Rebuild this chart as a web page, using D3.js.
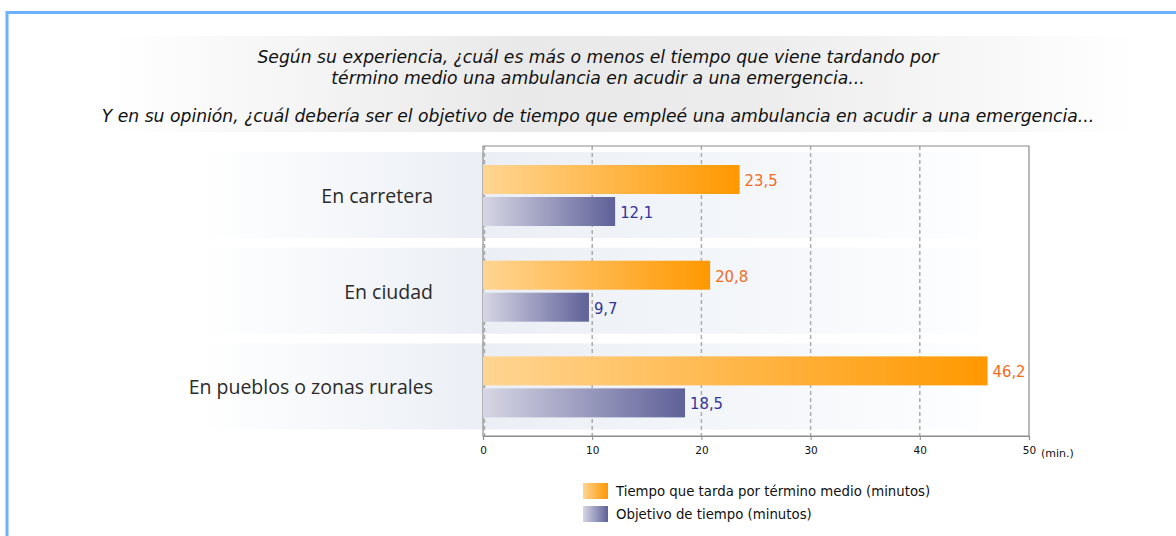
<!DOCTYPE html>
<html>
<head>
<meta charset="utf-8">
<script src="https://cdn.jsdelivr.net/npm/d3@7"></script>
<style>
  body { margin: 0; background: #fff; }
  svg { display: block; }
</style>
</head>
<body>
<svg id="chart" width="1176" height="536"></svg>
<script>
const titleLines = [
  'Según su experiencia, ¿cuál es más o menos el tiempo que viene tardando por',
  'término medio una ambulancia en acudir a una emergencia...',
  'Y en su opinión, ¿cuál debería ser el objetivo de tiempo que empleé una ambulancia en acudir a una emergencia...'
];
const categories = ['En carretera', 'En ciudad', 'En pueblos o zonas rurales'];
const seriesNames = ['Tiempo que tarda por término medio (minutos)', 'Objetivo de tiempo (minutos)'];
const tiempoMedio = [23.5, 20.8, 46.2];
const objetivo = [12.1, 9.7, 18.5];
const xTicks = [0, 10, 20, 30, 40, 50];
const unitLabel = '(min.)';

const seriesValues = [tiempoMedio, objetivo];
const seriesColors = [
  {from: '#ffd593', to: '#ff9800', text: '#f26b1d'},
  {from: '#d6d6e4', to: '#5f6198', text: '#34349a'}
];

const svg = d3.select('#chart');
const defs = svg.append('defs');

function hGrad(id, stops) {
  const g = defs.append('linearGradient').attr('id', id)
    .attr('x1', '0%').attr('x2', '100%').attr('y1', '0%').attr('y2', '0%');
  stops.forEach(function(s) {
    g.append('stop').attr('offset', s[0]).attr('stop-color', s[1]);
  });
}
hGrad('titleBg', [['0%', '#ffffff'], ['40%', '#e9e9e9'], ['62%', '#ececec'], ['100%', '#ffffff']]);
hGrad('bandBg', [['0%', '#ffffff'], ['36%', '#ebeff5'], ['60%', '#f1f4f8'], ['100%', '#fdfeff']]);
seriesColors.forEach(function(c, i) {
  hGrad('bar' + i, [['0%', c.from], ['100%', c.to]]);
});

// outer blue frame (top and left only)
svg.append('path')
  .attr('d', 'M7,536 V12.5 H1176')
  .attr('fill', 'none').attr('stroke', '#6cb1ff').attr('stroke-width', 3);

// title
svg.append('rect')
  .attr('x', 110).attr('y', 36).attr('width', 1027).attr('height', 96)
  .attr('fill', 'url(#titleBg)');
const titleY = [63, 84, 122];
svg.selectAll('.title').data(titleLines).enter().append('text')
  .attr('class', 'title')
  .attr('x', 598)
  .attr('y', function(d, i) { return titleY[i]; })
  .attr('text-anchor', 'middle')
  .style('font-family', 'DejaVu Sans, sans-serif')
  .style('font-style', 'italic')
  .style('font-size', '17.2px')
  .style('fill', '#111')
  .text(function(d) { return d; });

// scales
const x = d3.scaleLinear().domain([0, 50]).range([483, 1029]);
const y = d3.scaleBand().domain(categories).range([152, 429.5]).paddingInner(0.1);
const ySub = d3.scaleBand().domain([0, 1]).range([13, 74]).paddingInner(0.094);
const plotTop = 146, plotBottom = 436;

// category background bands
svg.selectAll('.band').data(categories).enter().append('rect')
  .attr('class', 'band')
  .attr('x', 200).attr('width', 780)
  .attr('y', function(d) { return y(d); })
  .attr('height', y.bandwidth())
  .attr('fill', 'url(#bandBg)');

// grid lines
svg.selectAll('.grid').data(xTicks.slice(0, -1)).enter().append('line')
  .attr('class', 'grid')
  .attr('x1', function(d) { return x(d) + (d === 0 ? 1.5 : 0); })
  .attr('x2', function(d) { return x(d) + (d === 0 ? 1.5 : 0); })
  .attr('y1', plotTop).attr('y2', plotBottom)
  .attr('stroke', '#acacac').attr('stroke-width', 1.5)
  .attr('stroke-dasharray', '4,3');

// plot frame
svg.append('path')
  .attr('d', 'M' + x(0) + ',' + plotBottom + ' V' + plotTop + ' H' + x(50) + ' V' + plotBottom + ' Z')
  .attr('fill', 'none').attr('stroke', '#8c8c8c').attr('stroke-width', 1.2);

// bars
const groups = svg.selectAll('.cat').data(categories).enter().append('g')
  .attr('class', 'cat')
  .attr('transform', function(d) { return 'translate(0,' + y(d) + ')'; });

groups.each(function(cat, ci) {
  const g = d3.select(this);
  const rows = seriesValues.map(function(vals, si) { return {si: si, v: vals[ci]}; });
  g.selectAll('rect').data(rows).enter().append('rect')
    .attr('x', x(0))
    .attr('y', function(d) { return ySub(d.si); })
    .attr('width', function(d) { return x(d.v) - x(0); })
    .attr('height', ySub.bandwidth())
    .attr('fill', function(d) { return 'url(#bar' + d.si + ')'; });
  g.selectAll('text.val').data(rows).enter().append('text')
    .attr('class', 'val')
    .attr('x', function(d) { return x(d.v) + 5; })
    .attr('y', function(d) { return ySub(d.si) + ySub.bandwidth() / 2 + 6.5; })
    .style('font-family', 'DejaVu Sans Condensed, DejaVu Sans, sans-serif')
    .style('font-stretch', 'condensed')
    .style('font-size', '16.5px')
    .style('fill', function(d) { return seriesColors[d.si].text; })
    .text(function(d) { return String(d.v.toFixed(1)).replace('.', ','); });
  g.append('text')
    .attr('x', 433)
    .attr('y', y.bandwidth() / 2 + 8)
    .attr('text-anchor', 'end')
    .style('font-family', 'Open Sans, sans-serif')
    .style('font-size', '19.5px')
    .style('fill', '#2a2a2a')
    .text(cat);
});

// x axis
const xAxis = svg.append('g')
  .attr('transform', 'translate(0,' + plotBottom + ')')
  .call(d3.axisBottom(x).tickValues(xTicks).tickSize(4).tickPadding(7));
xAxis.select('.domain').attr('stroke', '#8c8c8c').attr('stroke-width', 1.2);
xAxis.selectAll('.tick line').attr('stroke', '#8c8c8c');
xAxis.selectAll('.tick text')
  .style('font-family', 'DejaVu Sans, sans-serif')
  .style('font-size', '10.5px')
  .style('fill', '#111');
svg.append('text')
  .attr('x', x(50) + 12).attr('y', 457)
  .style('font-family', 'DejaVu Sans, sans-serif')
  .style('font-size', '11px')
  .style('fill', '#111')
  .text(unitLabel);

// legend
const legend = svg.selectAll('.legend').data(seriesNames).enter().append('g')
  .attr('class', 'legend')
  .attr('transform', function(d, i) { return 'translate(583,' + (483 + i * 23) + ')'; });
legend.append('rect')
  .attr('width', 25).attr('height', 16)
  .attr('fill', function(d, i) { return 'url(#bar' + i + ')'; });
legend.append('text')
  .attr('x', 33).attr('y', 13)
  .style('font-family', 'DejaVu Sans, sans-serif')
  .style('font-size', '13.3px')
  .style('fill', '#111')
  .text(function(d) { return d; });
</script>
</body>
</html>
